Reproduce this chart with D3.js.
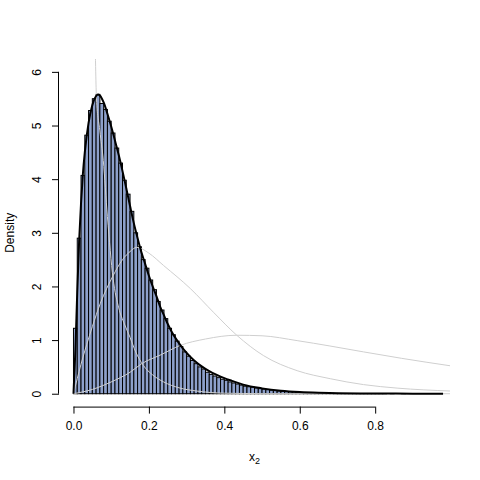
<!DOCTYPE html>
<html>
<head>
<meta charset="utf-8">
<script src="https://cdn.jsdelivr.net/npm/d3@7"></script>
<style>
  body { margin: 0; background: #fff; }
  text { font-family: "Liberation Sans", Arial, sans-serif; font-size: 12px; fill: #000; }
</style>
</head>
<body>
<div id="chart"></div>
<script>
// histogram: bins of width 0.01 starting at 0
const binWidth = 0.01;
const binHeights = [
  1.22, 2.90, 4.07, 4.82, 5.28, 5.50, 5.58, 5.41, 5.30, 5.08,
  4.86, 4.58, 4.30, 3.98, 3.72, 3.40, 3.00, 2.74, 2.50, 2.34,
  2.12, 1.94, 1.72, 1.56, 1.40, 1.22, 1.10, 0.98, 0.88, 0.78,
  0.70, 0.62, 0.56, 0.50, 0.46, 0.40, 0.36, 0.33, 0.30, 0.27,
  0.25, 0.22, 0.20, 0.18, 0.16, 0.14, 0.13, 0.12, 0.105, 0.095,
  0.085, 0.075, 0.065, 0.058, 0.05, 0.045, 0.04, 0.035, 0.03, 0.027,
  0.024, 0.02, 0.018, 0.015, 0.013, 0.011, 0.01, 0.008, 0.007, 0.006,
  0.005, 0.004, 0.004, 0.003, 0.003, 0.002, 0.002, 0.002, 0.001, 0.001,
  0.001, 0.001, 0.001, 0, 0.001, 0, 0, 0.001, 0, 0,
  0, 0, 0, 0, 0, 0
];

// fitted mixture density (black)
const mixX = [0, 0.005, 0.01, 0.015, 0.02, 0.025, 0.03, 0.04, 0.05, 0.06, 0.065, 0.07, 0.08, 0.09,
  0.1, 0.11, 0.12, 0.13, 0.14, 0.15, 0.16, 0.17, 0.18, 0.19, 0.2, 0.21, 0.22, 0.23, 0.24, 0.25,
  0.26, 0.28, 0.3, 0.32, 0.34, 0.36, 0.38, 0.4, 0.42, 0.45, 0.5, 0.55, 0.6, 0.65, 0.7, 0.8, 0.9, 0.98];
const mixY = [0, 0.8, 1.9, 2.85, 3.55, 4.1, 4.5, 5.05, 5.38, 5.55, 5.58, 5.56, 5.43, 5.22,
  4.98, 4.72, 4.45, 4.15, 3.83, 3.5, 3.18, 2.9, 2.64, 2.42, 2.2, 2.0, 1.82, 1.62, 1.46, 1.3,
  1.16, 0.94, 0.76, 0.62, 0.51, 0.42, 0.35, 0.29, 0.24, 0.17, 0.1, 0.055, 0.03, 0.017, 0.01, 0.004, 0.001, 0];

// component densities (grey)
const comp1X = [0.0565, 0.059, 0.061, 0.07, 0.079, 0.09, 0.105, 0.12, 0.135, 0.15, 0.165, 0.185,
  0.21, 0.239, 0.28, 0.327, 0.4, 0.5, 0.7, 1.0];
const comp1Y = [7.0, 6.0, 5.5, 4.9, 4.35, 3.3, 2.15, 1.6, 1.3, 1.05, 0.78, 0.53,
  0.35, 0.22, 0.11, 0.05, 0.01, 0.002, 0, 0];

const comp2X = [0, 0.02, 0.05, 0.071, 0.105, 0.13, 0.15, 0.168, 0.2, 0.239, 0.31, 0.371, 0.433,
  0.504, 0.593, 0.681, 0.769, 0.858, 1.0];
const comp2Y = [0, 0.55, 1.25, 1.68, 2.2, 2.5, 2.65, 2.73, 2.62, 2.39, 1.96, 1.52, 1.09,
  0.71, 0.43, 0.28, 0.17, 0.105, 0.05];

const comp3X = [0, 0.05, 0.1, 0.15, 0.181, 0.23, 0.283, 0.35, 0.433, 0.5, 0.593, 0.68, 0.769, 0.87, 1.0];
const comp3Y = [0, 0.08, 0.22, 0.40, 0.56, 0.72, 0.90, 1.02, 1.09, 1.08, 0.99, 0.89, 0.78, 0.66, 0.52];

const xTicks = [0, 0.2, 0.4, 0.6, 0.8];
const yTicks = [0, 1, 2, 3, 4, 5, 6];

const W = 480, H = 480;
const plot = { left: 59, right: 450, top: 59, bottom: 406.6 };

const svg = d3.select("#chart").append("svg").attr("width", W).attr("height", H);

const x = d3.scaleLinear().domain([-0.0384, 0.9984]).range([plot.left, plot.right]);
const y = d3.scaleLinear().domain([-0.24, 6.24]).range([plot.bottom, plot.top]);

svg.append("clipPath").attr("id", "clip").append("rect")
  .attr("x", plot.left).attr("y", plot.top)
  .attr("width", plot.right - plot.left).attr("height", plot.bottom - plot.top);

const g = svg.append("g").attr("clip-path", "url(#clip)");

// bars
g.selectAll("rect.bar").data(binHeights).enter().append("rect")
  .attr("class", "bar")
  .attr("x", (d, i) => x(i * binWidth))
  .attr("width", (d, i) => x((i + 1) * binWidth) - x(i * binWidth))
  .attr("y", d => y(d))
  .attr("height", d => y(0) - y(d))
  .attr("fill", "#8DA0CB").attr("stroke", "#000").attr("stroke-width", 1);

const line = d3.line().x(d => x(d[0])).y(d => y(d[1])).curve(d3.curveMonotoneX);

[[comp1X, comp1Y], [comp2X, comp2Y], [comp3X, comp3Y]].forEach(([xs, ys]) => {
  g.append("path").datum(d3.zip(xs, ys)).attr("d", line)
    .attr("fill", "none").attr("stroke", "#cfcfcf").attr("stroke-width", 1);
});

g.append("path").datum(d3.zip(mixX, mixY)).attr("d", line)
  .attr("fill", "none").attr("stroke", "#000").attr("stroke-width", 2);

// axes, R style
svg.append("g").attr("transform", `translate(0,${plot.bottom})`)
  .call(d3.axisBottom(x).tickValues(xTicks).tickFormat(d3.format(".1f")).tickSize(7).tickPadding(8))
  .call(a => a.select(".domain").attr("d", `M${x(0)},0.5H${x(0.8)}`))
  .call(a => a.selectAll("text").style("font-size", "12px").attr("font-family", null));

const yAxis = svg.append("g").attr("transform", `translate(${plot.left},0)`)
  .call(d3.axisLeft(y).tickValues(yTicks).tickFormat(d3.format("d")).tickSize(7))
  .call(a => a.select(".domain").attr("d", `M-0.5,${y(0)}V${y(6)}`));
yAxis.selectAll(".tick text")
  .attr("x", 0).attr("dy", null)
  .attr("text-anchor", "middle")
  .attr("transform", "translate(-18,0) rotate(-90)")
  .style("font-size", "12px").attr("font-family", null);

svg.append("text")
  .attr("transform", `translate(14,${(plot.top + plot.bottom) / 2}) rotate(-90)`)
  .attr("text-anchor", "middle").text("Density");

const xl = svg.append("text").attr("x", (plot.left + plot.right) / 2).attr("y", 461)
  .attr("text-anchor", "middle");
xl.append("tspan").text("x");
xl.append("tspan").attr("dy", 3).style("font-size", "9px").text("2");
</script>
</body>
</html>
